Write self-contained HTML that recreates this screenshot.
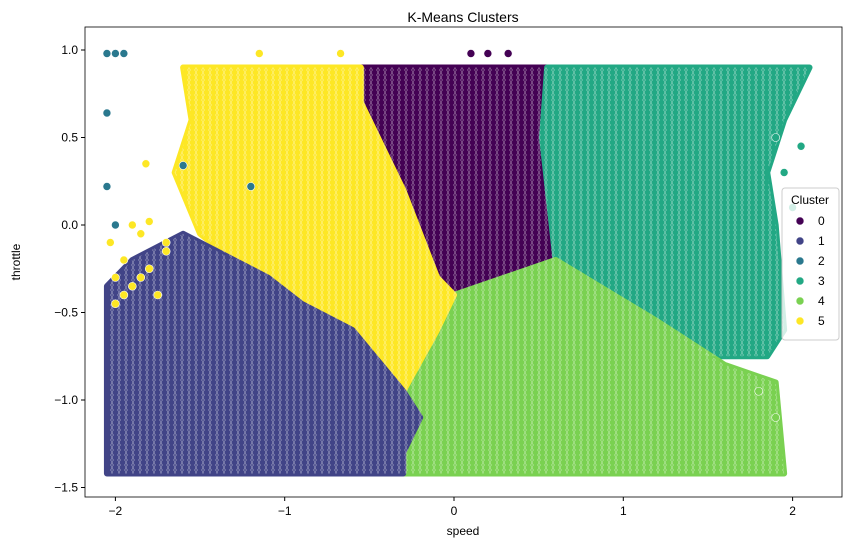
<!DOCTYPE html>
<html><head><meta charset="utf-8"><style>
body{margin:0;background:#fff;font-family:"Liberation Sans",sans-serif}
</style></head><body>
<svg id="chart" width="857" height="547" xmlns="http://www.w3.org/2000/svg" font-family="Liberation Sans, sans-serif">
<defs>
<pattern id="speckle" width="7" height="5" patternUnits="userSpaceOnUse">
<circle cx="3.5" cy="2.5" r="3.2" fill="none" stroke="#fff" stroke-width="0.6" stroke-opacity="0.45"/>
</pattern>
</defs>
<rect width="857" height="547" fill="#fff"/>
<g id="plot"></g>
<rect x="85" y="27" width="757" height="470" fill="none" stroke="#000" stroke-width="0.8"/>
<g id="axes"></g>
<text x="463" y="22" text-anchor="middle" font-size="14">K-Means Clusters</text>
<text x="463" y="535" text-anchor="middle" font-size="12">speed</text>
<text transform="translate(20,262) rotate(-90)" text-anchor="middle" font-size="12">throttle</text>
<g id="legend"></g>
</svg>
<script>
const xTicks=[-2,-1,0,1,2];
const yTicks=[1.0,0.5,0.0,-0.5,-1.0,-1.5];
const clusterLabels=["0","1","2","3","4","5"];
const clusterColors=["#440154","#414487","#2a788e","#22a884","#7ad151","#fde725"];
const region0=[[-0.55,0.9],[0.55,0.9],[0.52,0.5],[0.6,-0.2],[0.3,-0.3],[0.0,-0.4],[-0.1,-0.3],[-0.3,0.2],[-0.55,0.7]];
const region3=[[0.55,0.9],[2.1,0.9],[1.95,0.6],[1.85,0.3],[1.9,0.0],[1.95,-0.6],[1.85,-0.75],[1.5,-0.75],[1.2,-0.55],[0.6,-0.2],[0.52,0.5]];
const region4=[[0.0,-0.4],[0.3,-0.3],[0.6,-0.2],[1.2,-0.55],[1.6,-0.8],[1.9,-0.9],[1.95,-1.42],[-0.3,-1.42],[-0.3,-1.3],[-0.2,-1.1],[-0.3,-0.95],[-0.1,-0.6]];
const region5=[[-1.6,0.9],[-0.55,0.9],[-0.55,0.7],[-0.3,0.2],[-0.1,-0.3],[0.0,-0.4],[-0.1,-0.6],[-0.3,-0.95],[-0.6,-0.6],[-0.9,-0.45],[-1.1,-0.3],[-1.3,-0.2],[-1.5,-0.05],[-1.65,0.3],[-1.55,0.6]];
const region1=[[-2.05,-0.35],[-1.9,-0.2],[-1.6,-0.05],[-1.3,-0.2],[-1.1,-0.3],[-0.9,-0.45],[-0.6,-0.6],[-0.3,-0.95],[-0.2,-1.1],[-0.3,-1.3],[-0.3,-1.42],[-2.05,-1.42]];
const outX=[-2.05,-2.0,-1.95,-2.05,-2.05,-1.6,-1.2,-1.15,-0.67,0.1,0.2,0.32,-1.82,-1.9,-1.7,-1.95,-2.0,-1.85,1.9,1.95,2.0,2.05,1.8,1.9,-2.0,-1.8,-1.75,-2.0,-1.9,-1.8,-1.7,-2.03,-1.95,-1.85];
const outY=[0.98,0.98,0.98,0.64,0.22,0.34,0.22,0.98,0.98,0.98,0.98,0.98,0.35,0.0,-0.1,-0.2,-0.3,-0.05,0.5,0.3,0.1,0.45,-0.95,-1.1,0.0,0.02,-0.4,-0.45,-0.35,-0.25,-0.15,-0.1,-0.4,-0.3];
const outC=[2,2,2,2,2,2,2,5,5,0,0,0,5,5,5,5,5,5,3,3,3,3,4,4,2,5,5,5,5,5,5,5,5,5];
const regions=[[region0,0],[region3,3],[region4,4],[region5,5],[region1,1]];
const X=v=>454+v*169.3, Y=v=>225-v*175;
const NS="http://www.w3.org/2000/svg";
const plot=document.getElementById('plot'), axes=document.getElementById('axes'), legend=document.getElementById('legend');
function mk(t,a,p){const e=document.createElementNS(NS,t);for(const k in a)e.setAttribute(k,a[k]);p.appendChild(e);return e;}
regions.forEach(([r,c])=>{
  const pts=r.map(p=>X(p[0])+','+Y(p[1])).join(' ');
  const e=mk('polygon',{points:pts,fill:clusterColors[c],stroke:clusterColors[c],'stroke-width':6,'stroke-linejoin':'round'},plot);
  
  
});
regions.forEach(([r,c])=>{
  const pts=r.map(p=>X(p[0])+','+Y(p[1])).join(' ');
  const s=mk('polygon',{points:pts,fill:'url(#speckle)'},plot);
  
  
});
outX.forEach((x,i)=>{
  const e=mk('circle',{cx:X(x),cy:Y(outY[i]),r:4,fill:clusterColors[outC[i]],stroke:'#ffffff','stroke-width':0.6},plot);
  
  
});
xTicks.forEach(v=>{
  const l=mk('line',{x1:X(v),x2:X(v),y1:497,y2:501,stroke:'#000'},axes);
  
  
  const t=mk('text',{x:X(v),y:515,'text-anchor':'middle','font-size':12},axes);
  t.textContent=v<0?'\u2212'+(-v):String(v);
  
  
});
yTicks.forEach(v=>{
  const l=mk('line',{x1:81,x2:85,y1:Y(v),y2:Y(v),stroke:'#000'},axes);
  
  
  const t=mk('text',{x:78,y:Y(v)+4,'text-anchor':'end','font-size':12},axes);
  t.textContent=(v<0?'\u2212':'')+Math.abs(v).toFixed(1);
  
  
});
const bg=mk('rect',{x:782,y:188,width:57,height:152,rx:3,fill:'#fff','fill-opacity':0.8,stroke:'#ccc'},legend);


const lt=mk('text',{x:810,y:204,'text-anchor':'middle','font-size':12},legend);
lt.textContent='Cluster';


clusterLabels.forEach((lab,i)=>{
  const y=221+i*20;
  const c=mk('circle',{cx:800,cy:y,r:4,fill:clusterColors[i],stroke:'#fff','stroke-width':0.6},legend);
  
  
  const t=mk('text',{x:818,y:y+4,'font-size':12},legend);
  t.textContent=lab;
  
  
});
</script>
</body></html>
